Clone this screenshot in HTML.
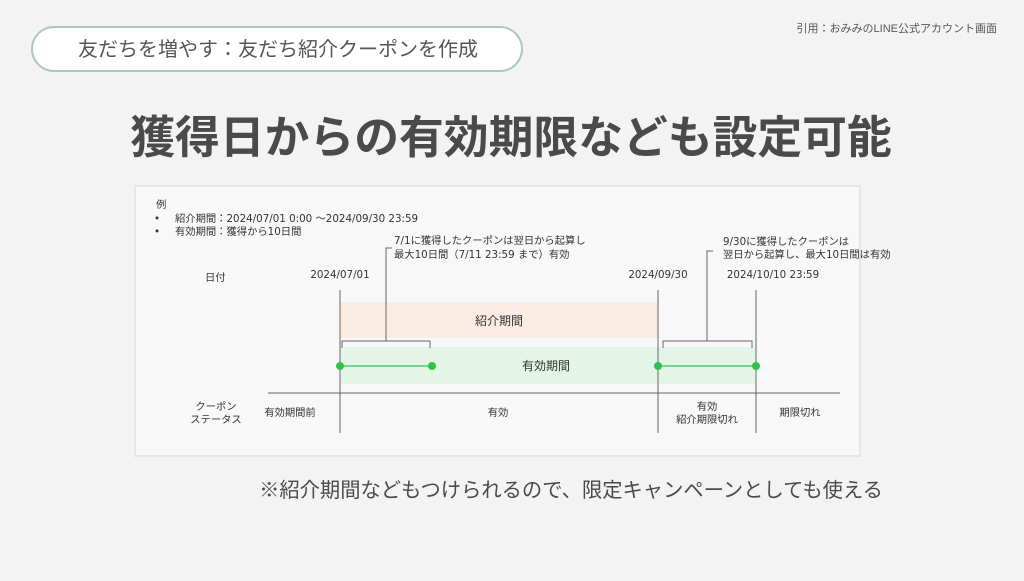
<!DOCTYPE html>
<html><head><meta charset="utf-8"><style>
body{margin:0;width:1024px;height:576px;background:#f3f3f3;overflow:hidden;font-family:"Liberation Sans","Noto Sans CJK JP",sans-serif;}
</style></head><body>
<svg width="1024" height="576" xmlns="http://www.w3.org/2000/svg" font-family="Liberation Sans, Noto Sans CJK JP, sans-serif">
<rect x="32" y="27" width="490" height="44" rx="22" fill="#fff" stroke="#a9c7c4" stroke-width="2"/>
<text x="278" y="56" font-size="20" fill="#555" text-anchor="middle">友だちを増やす：友だち紹介クーポンを作成</text>
<text x="997" y="32" font-size="11" fill="#555" text-anchor="end">引用：おみみのLINE公式アカウント画面</text>
<text x="511" y="153" font-size="44.8" font-weight="bold" fill="#4a4a4a" text-anchor="middle">獲得日からの有効期限なども設定可能</text>
<rect x="135" y="186" width="725" height="270" fill="#f8f8f8" stroke="#e6e6e6" stroke-width="2"/>
<g font-size="10.3" fill="#333" font-family="DejaVu Sans, Noto Sans CJK JP, sans-serif">
<text x="156" y="208">例</text>
<text x="154" y="222">•</text><text x="175" y="222">紹介期間：2024/07/01 0:00 ～2024/09/30 23:59</text>
<text x="154" y="235">•</text><text x="175" y="235">有効期間：獲得から10日間</text>
<text x="394" y="244">7/1に獲得したクーポンは翌日から起算し</text>
<text x="394" y="258">最大10日間（7/11 23:59 まで）有効</text>
<text x="723" y="245">9/30に獲得したクーポンは</text>
<text x="723" y="258">翌日から起算し、最大10日間は有効</text>
<text x="205" y="281">日付</text>
<text x="340" y="278" text-anchor="middle">2024/07/01</text>
<text x="658" y="278" text-anchor="middle">2024/09/30</text>
<text x="773" y="278" text-anchor="middle">2024/10/10 23:59</text>
<text x="216" y="410" text-anchor="middle">クーポン</text>
<text x="216" y="423" text-anchor="middle">ステータス</text>
<text x="290" y="416" text-anchor="middle">有効期間前</text>
<text x="498" y="416" text-anchor="middle">有効</text>
<text x="707" y="410" text-anchor="middle">有効</text>
<text x="707" y="423" text-anchor="middle">紹介期限切れ</text>
<text x="800" y="416" text-anchor="middle">期限切れ</text>
</g>
<rect x="340" y="302" width="318" height="36" fill="#fbece3"/>
<rect x="340" y="347" width="416" height="37" fill="#e2f5e6"/>
<text x="499" y="325" font-size="12" fill="#333" text-anchor="middle">紹介期間</text>
<text x="546" y="370" font-size="12" fill="#333" text-anchor="middle">有効期間</text>
<g stroke="#666" stroke-width="1" fill="none">
<line x1="340" y1="290" x2="340" y2="433"/>
<line x1="658" y1="290" x2="658" y2="433"/>
<line x1="756" y1="290" x2="756" y2="433"/>
<line x1="268" y1="393" x2="840" y2="393"/>
<path d="M342 348 V341 H430 V348 M386 341 V248 H392"/>
<path d="M663 348 V341 H752 V348 M707 341 V251 H713"/>
</g>
<g stroke="#3cc45a" stroke-width="1.2"><line x1="340" y1="366" x2="432" y2="366"/><line x1="658" y1="366" x2="756" y2="366"/></g>
<g fill="#2ec14f"><circle cx="340" cy="366" r="4"/><circle cx="432" cy="366" r="4"/><circle cx="658" cy="366" r="4"/><circle cx="756" cy="366" r="4"/></g>
<text x="571" y="497" font-size="20.3" fill="#4a4a4a" text-anchor="middle">※紹介期間などもつけられるので、限定キャンペーンとしても使える</text>
</svg>
</body></html>
